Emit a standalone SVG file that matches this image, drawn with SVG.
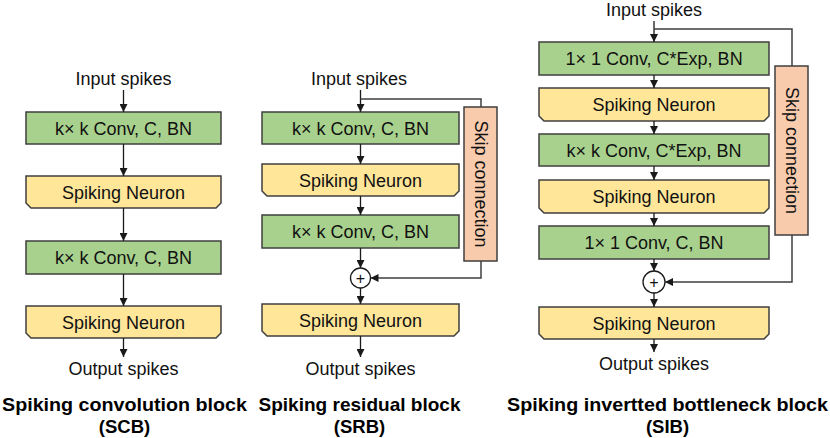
<svg xmlns="http://www.w3.org/2000/svg" width="830" height="438" viewBox="0 0 830 438">
<defs>
<marker id="ah" viewBox="0 0 8 8" refX="8" refY="4" markerWidth="8" markerHeight="8" markerUnits="userSpaceOnUse" orient="auto">
<path d="M0,0 L8,4 L0,8 z" fill="#1a1a1a"/>
</marker>
</defs>
<style>
.conv{fill:#a9d18e;stroke:#3f3f3f;stroke-width:1.5}
.sn{fill:#ffe699;stroke:#3f3f3f;stroke-width:1.5}
.skip{fill:#f8cbad;stroke:#3f3f3f;stroke-width:1.5}
.t{font-family:"Liberation Sans",Arial,sans-serif;font-size:18px;fill:#111;text-anchor:middle}
.title{font-family:"Liberation Sans",Arial,sans-serif;font-size:18.5px;font-weight:bold;fill:#000;text-anchor:middle}
.ln{fill:none;stroke:#1a1a1a;stroke-width:1.3}
.sk{fill:none;stroke:#3f3f3f;stroke-width:1.5}
.plus{fill:#fff;stroke:#1a1a1a;stroke-width:1.3}
</style>

<!-- SCB -->
<g id="scb-input"><text class="t" x="123.5" y="85">Input spikes</text></g>
<g id="scb-conv1"><rect class="conv" x="26" y="112" width="195" height="32"/><text class="t" x="123.5" y="134.5">k× k Conv, C, BN</text></g>
<g id="scb-sn1"><path class="sn" d="M26,176 H221 V203 L216,208 H31 L26,203 Z"/><text class="t" x="123.5" y="198.5">Spiking Neuron</text></g>
<g id="scb-conv2"><rect class="conv" x="26" y="241" width="195" height="33"/><text class="t" x="123.5" y="264">k× k Conv, C, BN</text></g>
<g id="scb-sn2"><path class="sn" d="M26,306 H221 V333 L216,338 H31 L26,333 Z"/><text class="t" x="123.5" y="328.5">Spiking Neuron</text></g>
<g id="scb-output"><text class="t" x="123.5" y="375">Output spikes</text></g>
<g id="scb-title"><text class="title" x="124.5" y="411" textLength="245" lengthAdjust="spacingAndGlyphs">Spiking convolution block</text><text class="title" x="124.5" y="433">(SCB)</text></g>

<!-- SRB -->
<g id="srb-input"><text class="t" x="359" y="85">Input spikes</text></g>
<g id="srb-conv1"><rect class="conv" x="262" y="112" width="197" height="32"/><text class="t" x="360.5" y="134.5">k× k Conv, C, BN</text></g>
<g id="srb-sn1"><path class="sn" d="M262,164 H459 V191 L454,196 H267 L262,191 Z"/><text class="t" x="360.5" y="186.5">Spiking Neuron</text></g>
<g id="srb-conv2"><rect class="conv" x="262" y="215" width="197" height="33"/><text class="t" x="360.5" y="238">k× k Conv, C, BN</text></g>
<g id="srb-add"><circle class="plus" cx="360.5" cy="278" r="10"/><text class="t" x="360.5" y="284" style="font-size:16px">+</text></g>
<g id="srb-skip"><rect class="skip" x="464" y="107" width="33" height="154"/><text class="t" transform="translate(474.5,184) rotate(90)" x="0" y="0">Skip connection</text></g>
<g id="srb-sn2"><path class="sn" d="M262,304 H459 V331 L454,336 H267 L262,331 Z"/><text class="t" x="360.5" y="326.5">Spiking Neuron</text></g>
<g id="srb-output"><text class="t" x="360.5" y="375">Output spikes</text></g>
<g id="srb-title"><text class="title" x="359.5" y="411" textLength="202" lengthAdjust="spacingAndGlyphs">Spiking residual block</text><text class="title" x="359.5" y="433">(SRB)</text></g>

<!-- SIB -->
<g id="sib-input"><text class="t" x="654" y="16">Input spikes</text></g>
<g id="sib-conv1"><rect class="conv" x="539" y="42" width="230" height="33"/><text class="t" x="654" y="65">1× 1 Conv, C*Exp, BN</text></g>
<g id="sib-sn1"><path class="sn" d="M539,88 H769 V116 L764,121 H544 L539,116 Z"/><text class="t" x="654" y="110.5">Spiking Neuron</text></g>
<g id="sib-conv2"><rect class="conv" x="539" y="134" width="230" height="32"/><text class="t" x="654" y="156.5">k× k Conv, C*Exp, BN</text></g>
<g id="sib-sn2"><path class="sn" d="M539,180 H769 V208 L764,213 H544 L539,208 Z"/><text class="t" x="654" y="202.5">Spiking Neuron</text></g>
<g id="sib-conv3"><rect class="conv" x="539" y="226" width="230" height="33"/><text class="t" x="654" y="249">1× 1 Conv, C, BN</text></g>
<g id="sib-add"><circle class="plus" cx="654" cy="282" r="11"/><text class="t" x="654" y="288" style="font-size:16px">+</text></g>
<g id="sib-skip"><rect class="skip" x="775" y="66" width="33" height="169"/><text class="t" transform="translate(785.5,150.5) rotate(90)" x="0" y="0">Skip connection</text></g>
<g id="sib-sn3"><path class="sn" d="M539,307 H769 V334 L764,339 H544 L539,334 Z"/><text class="t" x="654" y="329.5">Spiking Neuron</text></g>
<g id="sib-output"><text class="t" x="654" y="370">Output spikes</text></g>
<g id="sib-title"><text class="title" x="667.5" y="411" textLength="321" lengthAdjust="spacingAndGlyphs">Spiking invertted bottleneck block</text><text class="title" x="667.5" y="433">(SIB)</text></g>

<g id="connectors">
<!-- SCB -->
<path class="ln" marker-end="url(#ah)" d="M123.5,90 V112"/>
<path class="ln" marker-end="url(#ah)" d="M123.5,144 V176"/>
<path class="ln" marker-end="url(#ah)" d="M123.5,208 V241"/>
<path class="ln" marker-end="url(#ah)" d="M123.5,274 V306"/>
<path class="ln" marker-end="url(#ah)" d="M123.5,338 V357"/>
<!-- SRB -->
<path class="ln" marker-end="url(#ah)" d="M360.5,90 V112"/>
<path class="sk" d="M360.5,99 H481 V107"/>
<path class="ln" marker-end="url(#ah)" d="M360.5,144 V164"/>
<path class="ln" marker-end="url(#ah)" d="M360.5,196 V215"/>
<path class="ln" marker-end="url(#ah)" d="M360.5,248 V268"/>
<path class="sk" marker-end="url(#ah)" d="M481,261 V278 H370.5"/>
<path class="ln" marker-end="url(#ah)" d="M360.5,288 V304"/>
<path class="ln" marker-end="url(#ah)" d="M360.5,336 V357"/>
<!-- SIB -->
<path class="ln" marker-end="url(#ah)" d="M654,21 V42"/>
<path class="sk" d="M654,29 H792 V66"/>
<path class="ln" marker-end="url(#ah)" d="M654,75 V88"/>
<path class="ln" marker-end="url(#ah)" d="M654,121 V134"/>
<path class="ln" marker-end="url(#ah)" d="M654,166 V180"/>
<path class="ln" marker-end="url(#ah)" d="M654,213 V226"/>
<path class="ln" marker-end="url(#ah)" d="M654,259 V271"/>
<path class="sk" marker-end="url(#ah)" d="M792,235 V282 H665"/>
<path class="ln" marker-end="url(#ah)" d="M654,293 V307"/>
<path class="ln" marker-end="url(#ah)" d="M654,339 V352"/>
</g>
</svg>
